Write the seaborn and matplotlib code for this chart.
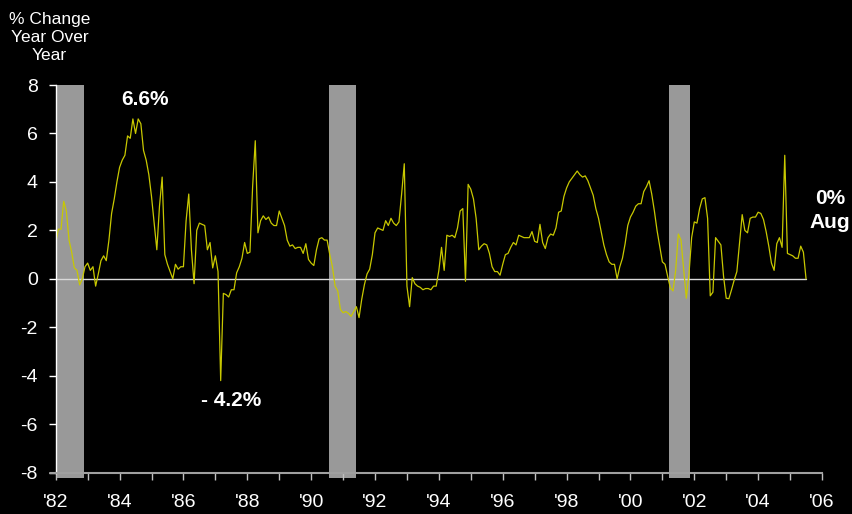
import matplotlib
matplotlib.use("Agg")
import matplotlib.pyplot as plt
import seaborn as sns
import numpy as np
import pandas as pd

# ---------------- data ----------------
first_year = 1982          # series starts January 1982, monthly
pct_change = [
    # 1982
    1.5, 2.05, 2.05, 3.2, 2.8, 1.6, 1.1, 0.45, 0.35, -0.25, 0.0, 0.5,
    # 1983
    0.65, 0.35, 0.5, -0.3, 0.2, 0.75, 0.95, 0.75, 1.6, 2.7, 3.3, 4.0,
    # 1984
    4.6, 4.9, 5.1, 5.9, 5.8, 6.6, 6.0, 6.6, 6.4, 5.3, 4.9, 4.3,
    # 1985
    3.4, 2.3, 1.2, 3.0, 4.2, 1.0, 0.6, 0.3, 0.0, 0.6, 0.4, 0.5,
    # 1986
    0.5, 2.4, 3.5, 1.2, -0.2, 2.0, 2.3, 2.25, 2.2, 1.2, 1.5, 0.45,
    # 1987
    0.95, 0.3, -4.2, -0.6, -0.65, -0.75, -0.45, -0.45, 0.25, 0.5, 0.85, 1.5,
    # 1988
    1.05, 1.1, 3.8, 5.7, 1.9, 2.4, 2.6, 2.45, 2.55, 2.3, 2.2, 2.2,
    # 1989
    2.8, 2.5, 2.2, 1.6, 1.35, 1.4, 1.25, 1.3, 1.3, 1.05, 1.45, 0.8,
    # 1990
    0.65, 0.55, 1.2, 1.65, 1.7, 1.6, 1.6, 1.0, 0.5, -0.3, -0.5, -1.26,
    # 1991
    -1.4, -1.35, -1.42, -1.55, -1.35, -1.15, -1.6, -0.85, -0.25, 0.2, 0.4, 1.0,
    # 1992
    1.9, 2.1, 2.05, 2.0, 2.4, 2.2, 2.5, 2.3, 2.2, 2.35, 3.5, 4.75,
    # 1993
    -0.3, -1.15, 0.05, -0.2, -0.3, -0.35, -0.45, -0.4, -0.4, -0.45, -0.3, -0.3,
    # 1994
    0.35, 1.3, 0.35, 1.8, 1.75, 1.8, 1.7, 2.1, 2.8, 2.9, -0.1, 3.9,
    # 1995
    3.7, 3.3, 2.5, 1.2, 1.35, 1.45, 1.4, 1.05, 0.5, 0.3, 0.3, 0.15,
    # 1996
    0.6, 1.0, 1.05, 1.3, 1.5, 1.4, 1.8, 1.75, 1.7, 1.7, 1.7, 1.95,
    # 1997
    1.55, 1.5, 2.25, 1.5, 1.25, 1.7, 1.85, 1.8, 2.1, 2.75, 2.8, 3.4,
    # 1998
    3.75, 4.0, 4.15, 4.3, 4.45, 4.3, 4.2, 4.25, 4.05, 3.75, 3.45, 2.9,
    # 1999
    2.5, 1.95, 1.4, 1.0, 0.7, 0.6, 0.6, 0.0, 0.5, 0.85, 1.45, 2.2,
    # 2000
    2.55, 2.75, 3.0, 3.1, 3.1, 3.6, 3.8, 4.05, 3.5, 2.8, 2.0, 1.35,
    # 2001
    0.7, 0.6, 0.1, -0.37, -0.5, 0.35, 1.85, 1.6, 0.4, -0.8, 0.2, 1.7,
    # 2002
    2.35, 2.3, 2.9, 3.3, 3.35, 2.5, -0.7, -0.55, 1.7, 1.55, 1.4, 0.1,
    # 2003
    -0.8, -0.82, -0.45, -0.05, 0.3, 1.5, 2.65, 2.0, 1.9, 2.5, 2.55, 2.55,
    # 2004
    2.75, 2.7, 2.45, 1.95, 1.35, 0.65, 0.35, 1.45, 1.7, 1.3, 5.1, 1.05,
    # 2005
    1.0, 0.95, 0.85, 0.85, 1.35, 1.1, 0.0,
]
recession_start = [1982.0, 1990.55, 2001.2]
recession_end = [1982.9, 1991.42, 2001.87]
tick_years = list(range(1982, 2007))
tick_labels = ["'%02d" % (y % 100) if y % 2 == 0 else "" for y in tick_years]
y_ticks = [-8, -6, -4, -2, 0, 2, 4, 6, 8]

# ---------------- figure ----------------
sns.set_theme(style="dark")
plt.rcParams["font.family"] = ["Liberation Sans", "DejaVu Sans"]

fig = plt.figure(figsize=(8.52, 5.14), dpi=100, facecolor="black")
ax = fig.add_axes([0.0654, 0.0804, 0.8994, 0.7542])
ax.set_facecolor("black")

df = pd.DataFrame({
    "year": first_year + np.arange(len(pct_change)) / 12.0,
    "pct": pct_change,
})
df["zero"] = 0.0

# recession shading
for s, e in zip(recession_start, recession_end):
    r = ax.axvspan(s, e, ymin=-0.013, ymax=1.0, color="#999999", lw=0, zorder=0)
    r.set_clip_on(False)

sns.lineplot(data=df, x="year", y="zero", ax=ax, color="#d9d9d9", linewidth=1.0, zorder=2)
sns.lineplot(data=df, x="year", y="pct", ax=ax, color="#c8c800", linewidth=0.9, zorder=3)

ax.set_xlim(1982, 2006)
ax.set_ylim(-8, 8)
ax.set_xlabel("")
ax.set_ylabel("")
ax.grid(False)

ax.set_xticks(tick_years)
ax.set_xticklabels(tick_labels)
ax.set_yticks(y_ticks)
ax.set_yticklabels([str(v) for v in y_ticks])

for side in ["top", "right"]:
    ax.spines[side].set_visible(False)
ax.spines["left"].set_color("white")
ax.spines["left"].set_linewidth(1.0)
ax.spines["bottom"].set_color("#a0a0a0")
ax.spines["bottom"].set_linewidth(1.5)
ax.spines["left"].set_zorder(4)
ax.spines["bottom"].set_zorder(4)
# axis line extends a little to the left of the y axis, as in the original
ax.plot([1981.83, 1982.0], [-8, -8], color="#a0a0a0", lw=1.5, clip_on=False, zorder=4)

ax.tick_params(axis="x", colors="white", labelsize=14, length=5, width=1,
               direction="out", pad=10, color="#c0c0c0", bottom=True)
ax.tick_params(axis="y", colors="white", labelsize=14, length=5, width=1,
               direction="out", pad=8, color="white", left=True)

# title / annotations
fig.text(0.058, 0.976, "% Change\nYear Over\nYear", color="white", fontsize=12.5,
         ha="center", va="top", linespacing=1.22)
ax.text(1984.79, 7.4, "6.6%", color="white", fontsize=15, fontweight="bold",
        ha="center", va="center")
ax.text(1987.48, -5.02, "- 4.2%", color="white", fontsize=15, fontweight="bold",
        ha="center", va="center")
ax.text(2006.25, 2.82, "0%\nAug", color="white", fontsize=15, fontweight="bold",
        ha="center", va="center", linespacing=1.3, clip_on=False)

fig.savefig("out.png", dpi=100, facecolor="black")
